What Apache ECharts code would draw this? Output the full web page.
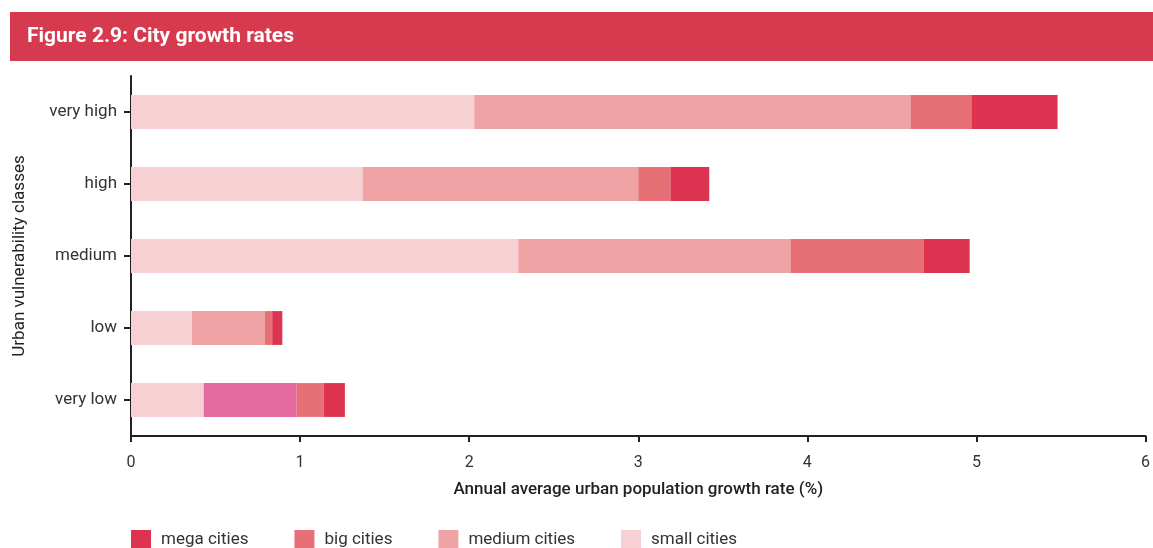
<!DOCTYPE html>
<html>
<head>
<meta charset="utf-8">
<script src="https://cdn.jsdelivr.net/npm/echarts@6/dist/echarts.min.js"></script>
<style>
  html, body { margin: 0; padding: 0; background: #fff; }
  #chart { width: 1153px; height: 548px; }
</style>
</head>
<body>
<div id="chart"></div>
<script>
// Urban vulnerability classes, bottom to top
const categories = ['very low', 'low', 'medium', 'high', 'very high'];

// Annual average urban population growth rate (%), contribution by city size
const smallCities  = [0.43, 0.36, 2.29, 1.37, 2.03];
const mediumCities = [0.55, 0.43, 1.61, 1.63, 2.58];
const bigCities    = [0.16, 0.045, 0.79, 0.19, 0.36];
const megaCities   = [0.125, 0.06, 0.27, 0.23, 0.51];

const xTicks = [0, 1, 2, 3, 4, 5, 6];

const colors = {
  mega: '#DC3450',
  big: '#E67076',
  medium: '#EFA3A4',
  small: '#F6D0D2',
  highlight: '#E46BA0'
};

const chart = echarts.init(document.getElementById('chart'));

function seriesOf(name, values, color, special) {
  return {
    name: name,
    type: 'bar',
    stack: 'total',
    barWidth: '47%',
    itemStyle: { color: color },
    emphasis: { disabled: true },
    data: values.map((v, i) => {
      if (special && special[i]) {
        return { value: v, itemStyle: { color: special[i] } };
      }
      return v;
    })
  };
}

const option = {
  animation: false,
  textStyle: { fontFamily: 'Roboto, "Noto Sans", sans-serif' },
  graphic: [
    {
      type: 'rect',
      left: 10, top: 12,
      shape: { width: 1143, height: 49 },
      style: { fill: '#D63A4F' },
      z: 0
    },
    {
      type: 'text',
      left: 27, top: 26,
      style: {
        text: 'Figure 2.9: City growth rates',
        fill: '#fff',
        font: 'bold 21px Roboto, "Noto Sans", sans-serif'
      },
      z: 1
    }
  ],
  legend: {
    data: ['mega cities', 'big cities', 'medium cities', 'small cities'],
    left: 126,
    top: 525,
    icon: 'rect',
    itemWidth: 20,
    itemHeight: 20,
    itemGap: 46,
    textStyle: { fontSize: 17, color: '#333', padding: [0, 0, 0, 5] }
  },
  grid: { left: 131, width: 1018, top: 76, height: 360, containLabel: false },
  xAxis: {
    type: 'value',
    min: 0, max: 6, interval: 1,
    name: 'Annual average urban population growth rate (%)',
    nameLocation: 'middle',
    nameGap: 45,
    nameTextStyle: { fontSize: 17, fontWeight: 500, color: '#222' },
    axisLine: { show: true, lineStyle: { color: '#222', width: 2 } },
    axisTick: { show: true, length: 6, lineStyle: { color: '#222', width: 2 } },
    axisLabel: {
      fontSize: 16, color: '#333', margin: 19,
      formatter: v => xTicks.includes(v) ? String(v) : ''
    },
    splitLine: { show: false }
  },
  yAxis: {
    type: 'category',
    data: categories,
    name: 'Urban vulnerability classes',
    nameLocation: 'middle',
    nameRotate: 90,
    nameGap: 103,
    nameTextStyle: { fontSize: 17, color: '#222' },
    axisLine: { show: true, lineStyle: { color: '#222', width: 2 } },
    axisTick: { show: true, alignWithLabel: true, length: 7, lineStyle: { color: '#222', width: 2 } },
    axisLabel: { fontSize: 17, color: '#333', margin: 14 }
  },
  series: [
    seriesOf('small cities', smallCities, colors.small),
    seriesOf('medium cities', mediumCities, colors.medium, [colors.highlight]),
    seriesOf('big cities', bigCities, colors.big),
    seriesOf('mega cities', megaCities, colors.mega)
  ]
};

chart.setOption(option);
</script>
</body>
</html>
